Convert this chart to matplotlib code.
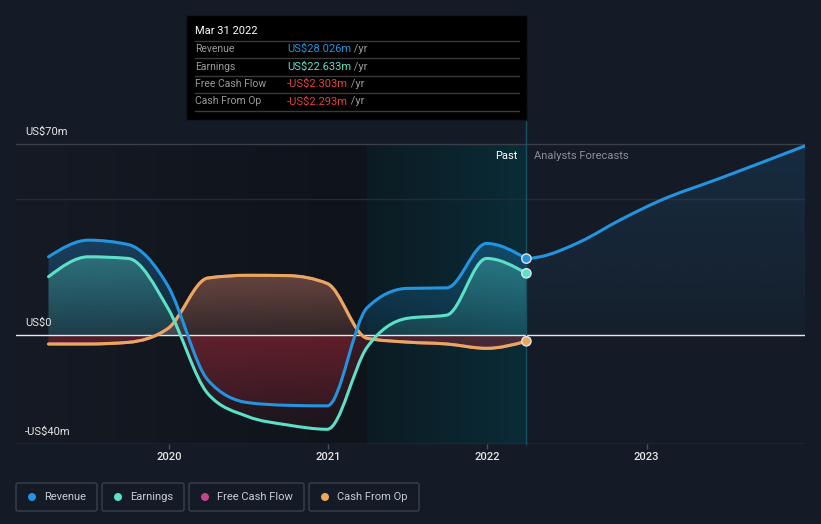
import numpy as np
import matplotlib
matplotlib.use('Agg')
import matplotlib.pyplot as plt
from matplotlib.path import Path
from matplotlib.patches import Rectangle, FancyBboxPatch, Circle, PathPatch
from matplotlib.transforms import IdentityTransform
from matplotlib.colors import to_rgb

plt.rcParams['font.family'] = ['Roboto', 'DejaVu Sans']

# ---- data (US$ m, quarterly) ----
dates = [2019.245, 2019.495, 2019.745, 2019.995, 2020.245, 2020.495, 2020.745,
         2020.995, 2021.245, 2021.495, 2021.745, 2021.995, 2022.245]
revenue = [28.7, 34.8, 33.2, 18.0, -16.5, -24.8, -25.8, -26.0, 10.0, 17.1, 17.3,
           33.6, 28.026]
earnings = [21.4, 28.7, 28.1, 9.8, -21.5, -29.9, -33.0, -34.6, -4.5, 6.1, 7.3,
            28.1, 22.633]
cash_from_op = [-3.3, -3.3, -2.7, 2.4, 20.9, 21.9, 21.8, 18.9, -1.2, -2.6, -3.3,
                -4.9, -2.293]
free_cash_flow = [-3.3, -3.3, -2.7, 2.4, 20.9, 21.9, 21.8, 18.9, -1.2, -2.6, -3.3,
                  -4.9, -2.303]

# analysts' revenue forecast
fc_dates = [2022.245, 2022.331, 2022.582, 2022.833, 2023.083, 2023.460, 2023.994]
fc_revenue = [28.026, 28.7, 34.2, 42.2, 49.3, 57.5, 69.4]

years = [2020, 2021, 2022, 2023]
y_ticks = [70, 0, -40]
y_tick_labels = ['US$70m', 'US$0', '-US$40m']

tip_title = 'Mar 31 2022'
tip_labels = ['Revenue', 'Earnings', 'Free Cash Flow', 'Cash From Op']
tip_values = ['US$28.026m', 'US$22.633m', '-US$2.303m', '-US$2.293m']

# ---- style ----
BG = '#151b26'
C_REV = '#2394df'
C_EARN = '#5ce0c8'
C_FCF = '#c2448a'
C_CFO = '#e9a95c'
C_NEG = '#d0303f'
C_TIP_NEG = '#e5413f'

W, H = 821, 524
XMIN, XMAX = 2019.041, 2023.994
YMIN, YMAX = -40, 78.9
T_NOW = 2022.245
T_YEAR = 2021.245

fig = plt.figure(figsize=(W / 100, H / 100), dpi=100, facecolor=BG)
ax = fig.add_axes([16 / W, 80 / H, 789 / W, 324 / H])
ax.set_axis_off()


def monotone_path(x, y, close=False):
    # smooth monotone-x curve through the points, as bezier segments
    x = np.asarray(x, float)
    y = np.asarray(y, float)
    n = len(x)
    h = np.diff(x)
    s = np.diff(y) / h
    m = np.zeros(n)
    for i in range(1, n - 1):
        if s[i - 1] * s[i] > 0:
            p = (s[i - 1] * h[i] + s[i] * h[i - 1]) / (h[i - 1] + h[i])
            m[i] = (np.sign(s[i - 1]) + np.sign(s[i])) * min(abs(s[i - 1]), abs(s[i]), 0.5 * abs(p))
    m[0] = (3 * s[0] - m[1]) / 2
    m[-1] = (3 * s[-1] - m[-2]) / 2
    verts = [(x[0], y[0])]
    codes = [Path.MOVETO]
    for i in range(n - 1):
        d = h[i] / 3
        verts += [(x[i] + d, y[i] + m[i] * d), (x[i + 1] - d, y[i + 1] - m[i + 1] * d),
                  (x[i + 1], y[i + 1])]
        codes += [Path.CURVE4] * 3
    if close:
        verts += [(x[-1], 0), (x[0], 0), (x[0], 0)]
        codes += [Path.LINETO, Path.LINETO, Path.CLOSEPOLY]
    return Path(verts, codes)


def hgrad(x0, x1, c0, c1, top, z=0):
    a, b = np.array(to_rgb(c0)), np.array(to_rgb(c1))
    f = np.linspace(0, 1, 256)[None, :, None]
    img = a + (b - a) * f
    ax.imshow(img, extent=[x0, x1, YMIN, top], aspect='auto', origin='lower',
              zorder=z, interpolation='bilinear')


def grad_fill(x, y, color, lo, hi, a_bot, a_top, z=1):
    img = np.zeros((256, 1, 4))
    img[..., :3] = to_rgb(color)
    img[:, 0, 3] = np.linspace(a_bot, a_top, 256)
    im = ax.imshow(img, extent=[min(x), max(x), lo, hi], aspect='auto',
                   origin='lower', zorder=z, interpolation='bilinear')
    im.set_clip_path(monotone_path(x, y, close=True), ax.transData)


def curve(x, y, color, z):
    ax.add_patch(PathPatch(monotone_path(x, y), facecolor='none', edgecolor=color,
                           lw=2.2, zorder=z, capstyle='round', joinstyle='round'))


# backgrounds (past and last-year band)
hgrad(XMIN, T_YEAR, '#151a24', '#0f131a', 70)
hgrad(T_YEAR, T_NOW, '#0c1b23', '#0a2c37', 70)

# grid lines
ax.axhline(70, color='#3a404a', lw=1, zorder=0.5)
ax.axhline(50, color='#252b35', lw=1, zorder=0.5)
ax.axhline(YMIN, color='#4a505a', lw=1, zorder=0.5)
for yr in years:
    ax.vlines(yr, YMIN - 1.8, YMIN, color='#4a505a', lw=1, clip_on=False)

# fills: series colour above zero, red below zero
grad_fill(fc_dates, fc_revenue, C_REV, 0, max(fc_revenue), 0.04, 0.14)
for vals, col, k in [(revenue, C_REV, 1.0), (earnings, C_EARN, 1.0),
                     (cash_from_op, C_CFO, 1.0), (free_cash_flow, C_FCF, 0.5)]:
    grad_fill(dates, vals, col, 0, max(max(vals), 1), 0.12 * k, 0.32 * k)
    grad_fill(dates, vals, C_NEG, YMIN, 0, 0.04 * k, 0.24 * k)

# zero line
ax.axhline(0, color='#e8e8e8', lw=1, zorder=2)

# lines
curve(fc_dates, fc_revenue, C_REV, 3)
curve(dates, free_cash_flow, C_FCF, 3)
curve(dates, cash_from_op, C_CFO, 3.1)
curve(dates, earnings, C_EARN, 3.2)
curve(dates, revenue, C_REV, 3.3)

# now line + end markers
ax.plot([T_NOW, T_NOW], [YMIN, 117.4], color='#17505f', lw=1, zorder=2.5, clip_on=False)
ax.scatter([T_NOW] * 3, [revenue[-1], earnings[-1], cash_from_op[-1]], s=45,
           c=[C_REV, C_EARN, C_CFO], edgecolors='#dfe6ee', linewidths=1, zorder=5)

ax.set_xlim(XMIN, XMAX)
ax.set_ylim(YMIN, YMAX)

# axis texts
for v, lab in zip(y_ticks, y_tick_labels):
    ax.annotate(lab, xy=(9 / 789, v), xycoords=('axes fraction', 'data'),
                xytext=(0, 12), textcoords='offset pixels', ha='left', va='center',
                fontsize=8, color='#e6e6e6')
for yr in years:
    ax.annotate(str(yr), xy=(yr, YMIN), xytext=(0, -13), textcoords='offset pixels',
                ha='center', va='center', fontsize=8, color='#e6e6e6',
                fontweight='medium', annotation_clip=False)
ax.annotate('Past', xy=(T_NOW, 70), xytext=(-9, -12), textcoords='offset pixels',
            ha='right', va='center', fontsize=8, color='#ffffff')
ax.annotate('Analysts Forecasts', xy=(T_NOW, 70), xytext=(8, -12),
            textcoords='offset pixels', ha='left', va='center', fontsize=8,
            color='#8a8f98')

# ---- tooltip (pixel coords, origin top-left) ----
px = IdentityTransform()


def P(x, y):
    return x, H - y


fig.add_artist(Rectangle(P(186, 120), 341, 105, facecolor='#000000',
                         edgecolor='#10151c', lw=1, transform=px, zorder=10))
fig.text(*P(195, 31), tip_title, transform=px, fontsize=8, color='#ffffff',
         va='center', ha='left', zorder=11)
for yy in [41, 58, 76, 93, 111]:
    fig.add_artist(plt.Line2D([195, 519], [H - yy, H - yy], color='#3a3a3a',
                              lw=1, transform=px, zorder=11))
tip_colors = [C_REV, C_EARN, C_TIP_NEG, C_TIP_NEG]
for i, (lab, val, col) in enumerate(zip(tip_labels, tip_values, tip_colors)):
    yy = 49 + i * 17.5
    fig.text(*P(195, yy), lab, transform=px, fontsize=7.5, color='#9a9a9a',
             va='center', ha='left', zorder=11)
    t = fig.text(*P(287, yy), val, transform=px, fontsize=8, color=col,
                 va='center', ha='left', zorder=11)
    fig.add_artist(plt.Annotation(' /yr', xy=(1, 0.5), xycoords=t, va='center',
                                  ha='left', fontsize=8, color='#9a9a9a', zorder=11))

# ---- legend ----
legend_names = ['Revenue', 'Earnings', 'Free Cash Flow', 'Cash From Op']
legend_colors = [C_REV, C_EARN, C_FCF, C_CFO]
legend_boxes = [(16, 97), (102, 184), (189, 304), (309, 419)]
for name, col, (x0, x1) in zip(legend_names, legend_colors, legend_boxes):
    fig.add_artist(FancyBboxPatch(P(x0, 511), x1 - x0, 28,
                                  boxstyle='round,pad=0,rounding_size=2',
                                  facecolor='none', edgecolor='#3b414c', lw=1,
                                  transform=px))
    fig.add_artist(Circle(P(x0 + 16, 497), 4, facecolor=col, edgecolor='none',
                          transform=px))
    fig.text(*P(x0 + 28, 497), name, transform=px, fontsize=8, color='#c8ccd2',
             va='center', ha='left')

plt.savefig('out.png', dpi=100, facecolor=BG)
